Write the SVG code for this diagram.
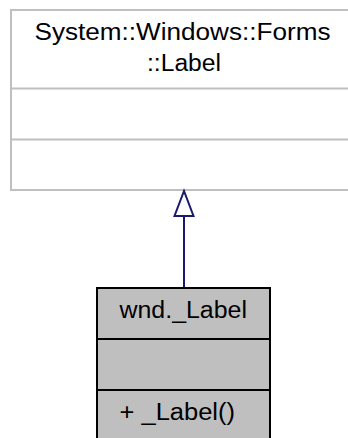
<svg xmlns="http://www.w3.org/2000/svg" width="348" height="438" viewBox="0 0 348 438">
  <style>
    .txt { font-family: "Liberation Sans", Arial, sans-serif; font-size: 23.5px; fill: #000000; }
    .base { fill: #ffffff; stroke: #bfbfbf; stroke-width: 2; }
    .cls { fill: #bfbfbf; stroke: #000000; stroke-width: 2; }
    .edge { fill: none; stroke: #191970; stroke-width: 2; }
    .head { fill: #ffffff; stroke: #191970; stroke-width: 2; }
  </style>
  <rect width="348" height="438" fill="#ffffff"/>

  <!-- base class -->
  <g id="node-system-windows-forms-label">
    <rect class="base" x="11" y="10" width="345" height="180"/>
    <line class="base" x1="11" y1="88.5" x2="356" y2="88.5"/>
    <line class="base" x1="11" y1="139.5" x2="356" y2="139.5"/>
    <text class="txt" x="34.5" y="39.5" textLength="296" lengthAdjust="spacingAndGlyphs">System::Windows::Forms</text>
    <text class="txt" x="147" y="70.5" textLength="74" lengthAdjust="spacingAndGlyphs">::Label</text>
  </g>

  <!-- inheritance connector -->
  <g id="connectors">
    <line class="edge" x1="184" y1="216" x2="184" y2="288"/>
    <polygon class="head" points="184,191 174.5,216 193.5,216"/>
  </g>

  <!-- derived class -->
  <g id="node-wnd-label">
    <rect class="cls" x="97" y="288" width="173" height="160"/>
    <line class="cls" x1="97" y1="339" x2="270" y2="339"/>
    <line class="cls" x1="97" y1="390" x2="270" y2="390"/>
    <text class="txt" x="119.5" y="317.5" textLength="127.5" lengthAdjust="spacingAndGlyphs">wnd._Label</text>
    <text class="txt" x="119.5" y="419.5" textLength="115.5" lengthAdjust="spacingAndGlyphs">+ _Label()</text>
  </g>
</svg>
